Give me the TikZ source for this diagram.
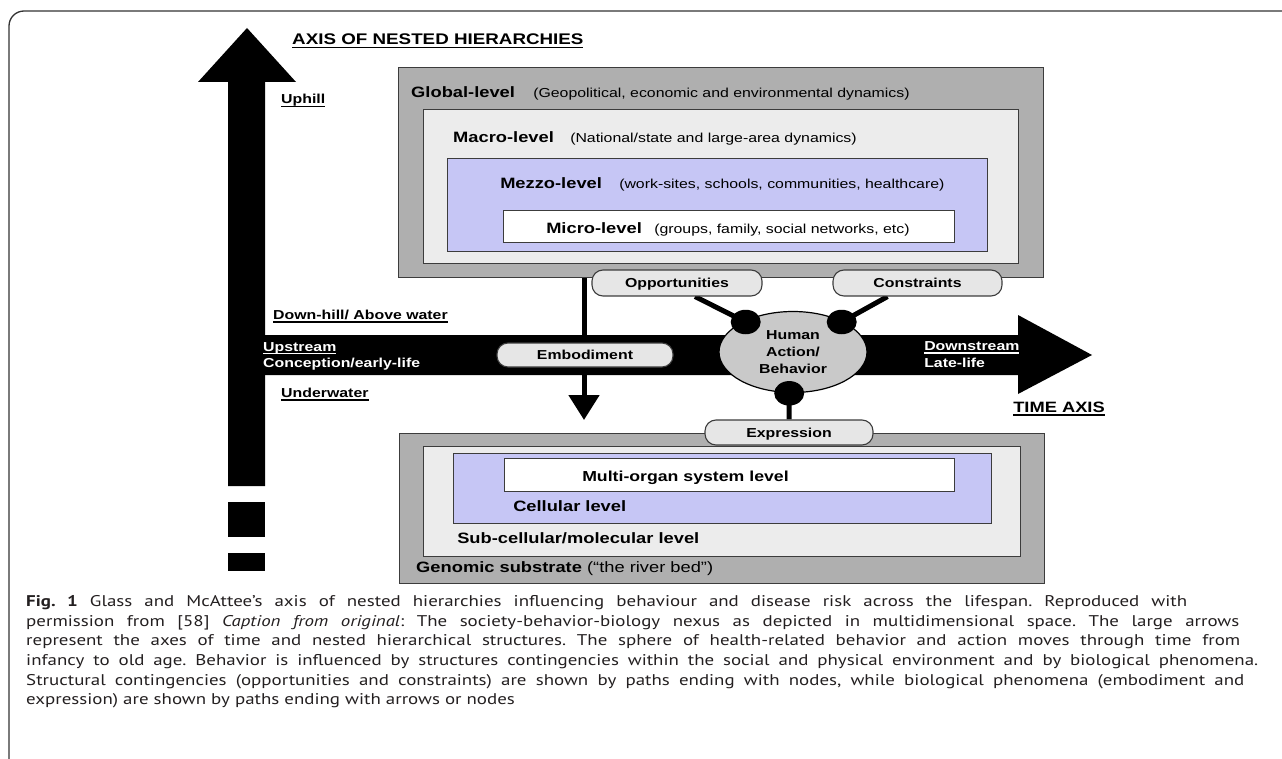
\documentclass[tikz,border=0pt]{standalone}
\usepackage{fontspec}
\usepackage{graphicx}
\setmainfont{Liberation Sans}
\newfontfamily\capfont{PT Sans}
\usetikzlibrary{shapes.geometric,arrows.meta}
\pgfdeclarelayer{back}
\pgfsetlayers{back,main}
\frenchspacing
\definecolor{gdark}{HTML}{AFAFAF}
\definecolor{glight}{HTML}{ECECEC}
\definecolor{lav}{HTML}{C6C6F5}
\definecolor{bubfill}{HTML}{E6E6E6}
\definecolor{edge}{HTML}{3C3C3C}
\definecolor{habfill}{HTML}{C9C9C9}
\definecolor{captxt}{HTML}{231F20}
\newcommand\fs[1]{\fontsize{#1}{#1}\selectfont}
\newcommand\X[1]{\scalebox{1.22}[1]{#1}}
\newcommand\myul[1]{\leavevmode\setbox0\hbox{#1}\rlap{\raisebox{-3.3pt}{\rule{\wd0}{1.5pt}}}\box0}
\begin{document}
\begin{tikzpicture}[x=1pt,y=-1pt,
  txt/.style={inner sep=0pt, anchor=base west, xscale=1.22},
  hd/.style={txt, font=\fs{15.4}\bfseries},
  bl/.style={txt, font=\fs{15}\bfseries},
  sm/.style={txt, font=\fs{13}},
  smb/.style={txt, font=\fs{13}\bfseries},
  lvl/.style={draw=edge, line width=1.3pt, anchor=north west, inner sep=0pt},
  bub/.style={draw=edge, fill=bubfill, line width=1.1pt, rounded corners=11pt, inner sep=0pt, text height=9.3pt, text depth=0pt, font=\fs{13}\bfseries},
  blackdot/.style={ellipse, fill=black, minimum width=30pt, minimum height=24.5pt, inner sep=0pt},
  conn/.style={line width=5pt},
  captext/.style={inner sep=0pt, anchor=base west, xscale=1.22, font=\capfont\fs{15.5}, text=captxt},
]
\useasboundingbox (0,0) rectangle (1282,759);
% frame
\draw[line width=1.3pt, draw=black!80, rounded corners=15pt] (9,775) -- (9,11) -- (1300,11);

% upper nested boxes
\node[lvl, fill=gdark, minimum width=645pt, minimum height=210pt] (global) at (398,67) {};
\node[lvl, fill=glight, minimum width=595pt, minimum height=154pt] (macro) at (423,109) {};
\node[lvl, fill=lav, minimum width=540pt, minimum height=93pt] (mezzo) at (447,158) {};
\node[lvl, fill=white, minimum width=451pt, minimum height=32pt] (micro) at (503,210) {};
\node[bl] (globallbl) at (411,97.3) {Global-level};
\node[sm] (globaldesc) at (533,97.3) {(Geopolitical, economic and environmental dynamics)};
\node[bl] (macrolbl) at (453,142.7) {Macro-level};
\node[sm] (macrodesc) at (570,142.7) {(National/state and large-area dynamics)};
\node[bl] (mezzolbl) at (500,188.3) {Mezzo-level};
\node[sm] (mezzodesc) at (619,188.3) {(work-sites, schools, communities, healthcare)};
\node[bl] (microlbl) at (546,233.3) {Micro-level};
\node[sm] (microdesc) at (654,233.3) {(groups, family, social networks, etc)};

% lower nested boxes
\node[lvl, fill=gdark, minimum width=645pt, minimum height=150pt] (genomic) at (399,433) {};
\node[lvl, fill=glight, minimum width=597pt, minimum height=110pt] (subcell) at (423,446) {};
\node[lvl, fill=lav, minimum width=538pt, minimum height=70pt] (cell) at (453,453) {};
\node[lvl, fill=white, minimum width=450pt, minimum height=33pt] (multi) at (504,458) {};
\node[txt, font=\fs{14.5}\bfseries] (multilbl) at (582,481) {Multi-organ system level};
\node[bl] (celllbl) at (513,511.7) {Cellular level};
\node[bl] (subcelllbl) at (457,543.3) {Sub-cellular/molecular level};
\node[txt, font=\fs{15}] (genomiclbl) at (416,572.3) {\textbf{Genomic substrate} (“the river bed”)};

% axis of nested hierarchies
\fill[black] (228,486) -- (228,82) -- (198,82) -- (247,28) -- (296,82) -- (265,82) -- (265,486) -- cycle;
\fill[black] (228,502) rectangle (265,537);
\fill[black] (228,553) rectangle (265,571);
\node[hd] (title) at (292,45) {\myul{AXIS OF NESTED HIERARCHIES}};
\node[smb] (uphill) at (281,104) {\myul{Uphill}};
\node[smb] (downhill) at (273,319.3) {\myul{Down-hill/ Above water}};
\node[smb] (underwater) at (281,397.3) {\myul{Underwater}};

% time axis
\fill[black] (264,335) -- (1018,335) -- (1018,315) -- (1092,355) -- (1018,394) -- (1018,375) -- (264,375) -- cycle;
\node[smb, text=white] (upstream) at (263,351) {\myul{Upstream}};
\node[smb, text=white] (conception) at (263,367.3) {Conception/early-life};
\node[smb, text=white] (downstream) at (924,350.5) {\myul{Downstream}};
\node[smb, text=white] (latelife) at (924,367.7) {Late-life};
\node[hd, font=\fs{15}\bfseries] (timeaxis) at (1013,412.3) {\myul{TIME AXIS}};

% behaviour
\node[ellipse, draw=black, line width=1.2pt, fill=habfill, minimum width=148pt, minimum height=81pt, inner sep=0pt, align=center, font=\fontsize{13}{16.7}\selectfont\bfseries] (hab) at (793,352) {\X{Human}\\\X{Action/}\\\X{Behavior}};
\node[blackdot] (d1) at (745.7,322) {};
\node[blackdot] (d2) at (841.7,322) {};
\node[blackdot] (d3) at (789.2,393.3) {};

\node[bub, minimum width=170pt, minimum height=26pt] (opp) at (677,283) {\X{Opportunities}};
\node[bub, minimum width=169pt, minimum height=26pt] (con) at (917.5,283) {\X{Constraints}};
\node[bub, minimum width=176pt, minimum height=24pt] (emb) at (585,355) {\X{Embodiment}};
\node[bub, minimum width=168pt, minimum height=25pt] (expr) at (789,432.5) {\X{Expression}};

\coordinate (embtip) at (584,420);
\begin{pgfonlayer}{back}
\draw[conn, -{Triangle[width=30pt,length=25pt]}] (global.south -| embtip) -- (embtip);
\draw[conn] ([xshift=18pt]opp.south) -- (d1.center);
\draw[conn] ([xshift=-30pt]con.south) -- (d2.center);
\draw[conn] (d3.center) -- (expr.north);
\end{pgfonlayer}

% caption
\node[captext] (cap1) at (26,606.7) {\makebox[951.6pt][s]{\textbf{Fig. 1} Glass and McAttee’s axis of nested hierarchies influencing behaviour and disease risk across the lifespan. Reproduced with}};
\node[captext] (cap2) at (26,626.3) {\makebox[994.3pt][s]{permission from [58] \textit{Caption from original}: The society-behavior-biology nexus as depicted in multidimensional space. The large arrows}};
\node[captext] (cap3) at (26,645.9) {\makebox[995.1pt][s]{represent the axes of time and nested hierarchical structures. The sphere of health-related behavior and action moves through time from}};
\node[captext] (cap4) at (26,665.5) {\makebox[1009.8pt][s]{infancy to old age. Behavior is influenced by structures contingencies within the social and physical environment and by biological phenomena.}};
\node[captext] (cap5) at (26,685.1) {\makebox[998.4pt][s]{Structural contingencies (opportunities and constraints) are shown by paths ending with nodes, while biological phenomena (embodiment and}};
\node[captext] (cap6) at (26,704.7) {expression) are shown by paths ending with arrows or nodes};
\end{tikzpicture}
\end{document}
